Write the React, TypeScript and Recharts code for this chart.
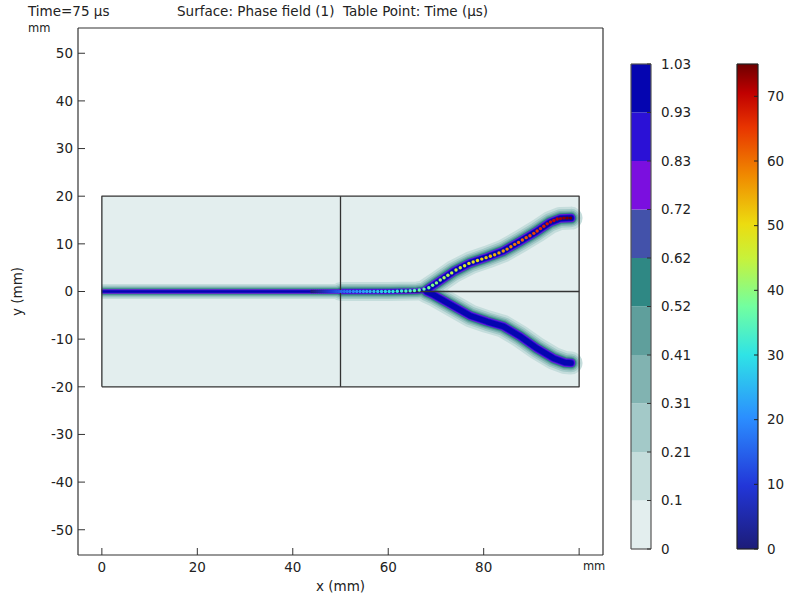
import { ComposedChart, Line, Scatter, XAxis, YAxis, ReferenceArea, BarChart, Bar } from 'recharts';

const FONT = '"DejaVu Sans", sans-serif';
const INK = '#222';

// geometry of the domain (mm)
const rectX = [0, 100, 100, 0, 0];
const rectY = [-20, -20, 20, 20, -20];
const splitVX = [50, 50];
const splitVY = [-20, 20];
const splitHX = [50, 100];
const splitHY = [0, 0];

// crack path (mm)
const stemLeftX = [0, 50];
const stemLeftY = [0, 0];
const stemRightX = [50, 60, 66, 68];
const stemRightY = [0, 0, 0.1, 0.3];
const upperX = [68, 70.2, 73.7, 77.2, 80.7, 84.1, 87.6, 91.1, 93.9, 96.0, 98.3];
const upperY = [0.3, 1.8, 4.2, 6.0, 7.2, 8.5, 10.5, 12.6, 14.5, 15.3, 15.4];
const lowerX = [68, 69.5, 73.7, 77.2, 80.7, 84.1, 87.6, 91.1, 94.6, 97.0, 98.3];
const lowerY = [0, -0.7, -3.1, -5.1, -6.3, -7.3, -9.4, -11.9, -14.0, -14.9, -15.0];

// crack tip table points
const tipT = [
  0, 1, 2, 3, 4, 5, 6, 7, 8, 9, 10, 11, 12, 13, 14, 15, 16, 17, 18, 19,
  20, 21, 22, 23, 24, 25, 26, 27, 28, 29, 30, 31, 32, 33, 34, 35, 36, 37, 38, 39,
  40, 41, 42, 43, 44, 45, 46, 47, 48, 49, 50, 51, 52, 53, 54, 55, 56, 57, 58, 59,
  60, 61, 62, 63, 64, 65, 66, 67, 68, 69, 70, 71, 72, 73, 74, 75,
];
const tipX = [
  44.0, 44.4, 44.8, 45.2, 45.6, 46.0, 46.4, 46.8, 47.2, 47.6, 48.0, 48.4, 48.8, 49.2, 49.7, 50.2, 50.8, 51.4, 52.0, 52.7,
  53.4, 54.1, 54.8, 55.5, 56.2, 57.0, 57.8, 58.6, 59.4, 60.2, 61.0, 61.9, 62.8, 63.7, 64.6, 65.5, 66.5, 67.5, 68.5, 69.3,
  70.1, 70.9, 71.7, 72.5, 73.3, 74.2, 75.1, 76.0, 76.9, 77.8, 78.7, 79.6, 80.5, 81.4, 82.3, 83.2, 84.1, 84.9, 85.7, 86.5,
  87.3, 88.1, 88.9, 89.7, 90.5, 91.2, 91.9, 92.6, 93.3, 94.0, 94.7, 95.4, 96.1, 96.8, 97.5, 98.2,
];
const tipY = [
  0, 0, 0, 0, 0, 0, 0, 0, 0, 0, 0, 0, 0, 0, 0, 0, 0, 0, 0, 0,
  0, 0, 0, 0, 0, 0, 0, 0, 0, 0, 0, 0.05, 0.1, 0.1, 0.15, 0.2, 0.3, 0.5, 0.8, 1.3,
  1.8, 2.4, 2.9, 3.4, 3.9, 4.5, 5.0, 5.4, 5.9, 6.2, 6.5, 6.8, 7.1, 7.4, 7.7, 8.1, 8.5, 8.9, 9.4, 9.9,
  10.3, 10.8, 11.3, 11.7, 12.2, 12.7, 13.2, 13.7, 14.2, 14.6, 14.9, 15.2, 15.3, 15.4, 15.4, 15.4,
];

// axes
const xTicks = [0, 20, 40, 60, 80, 100];
const yTicks = [-50, -40, -30, -20, -10, 0, 10, 20, 30, 40, 50];

// phase field colour legend
const phaseLevels = [0, 0.1033, 0.2066, 0.31, 0.4132, 0.5165, 0.6198, 0.7231, 0.8264, 0.9297, 1.033];
const phaseLabels = ['0', '0.1', '0.21', '0.31', '0.41', '0.52', '0.62', '0.72', '0.83', '0.93', '1.03'];
const phaseColors = ['#e3eeee', '#c5dddc', '#a3c9c8', '#81b3b1', '#5f9f9c', '#2f8884', '#4352aa', '#7b0fdf', '#2b11d6', '#0505b0'];

// time colour legend
const timeTicks = [0, 10, 20, 30, 40, 50, 60, 70];
const timeMax = 75;
const rainbowStops: [number, string][] = [
  [0, '#1c1c78'], [0.13, '#2236d8'], [0.27, '#2b8eff'], [0.4, '#2fe3e6'], [0.5, '#72ffa0'],
  [0.6, '#c8f23a'], [0.67, '#ecdc10'], [0.77, '#f08a00'], [0.87, '#e83400'], [0.94, '#c00000'], [1, '#6e0000'],
];

// halo widths (px) per phase colour band, outermost first
const haloColors = phaseColors.slice(1);
const stemLeftW = [15, 12, 9.5, 7.5, 6, 4.8, 4, 3, 1.8];
const stemRightW = [19, 15, 12, 9.5, 7.5, 6, 5, 4.2, 3];
const branchW = [23, 18.5, 15, 12.5, 10.5, 9, 8, 7, 5.5];

const pts = (xs: number[], ys: number[]) => xs.map((x, i) => ({ x, y: ys[i] }));

const hex = (c: string) => [1, 3, 5].map((i) => parseInt(c.slice(i, i + 2), 16));
const colorAt = (t: number) => {
  const f = Math.max(0, Math.min(1, t / timeMax));
  for (let i = 1; i < rainbowStops.length; i++) {
    const [p1, c1] = rainbowStops[i];
    const [p0, c0] = rainbowStops[i - 1];
    if (f <= p1) {
      const k = (f - p0) / (p1 - p0);
      const a = hex(c0);
      const b = hex(c1);
      return `rgb(${a.map((v, j) => Math.round(v + (b[j] - v) * k)).join(',')})`;
    }
  }
  return rainbowStops[rainbowStops.length - 1][1];
};

const stemL = pts(stemLeftX, stemLeftY);
const stemR = pts(stemRightX, stemRightY);
const upper = pts(upperX, upperY);
const lower = pts(lowerX, lowerY);
const tips = tipT.map((t, i) => ({ x: tipX[i], y: tipY[i], t }));

const tickStyle = { fill: INK, fontSize: 13.5, fontFamily: FONT };

const renderXTick = (p: any) => {
  const v = p.payload.value;
  if (v === 100) {
    return (
      <text x={p.x + 15} y={p.y} dy="0.71em" textAnchor="middle" fill={INK} fontSize={11.5} fontFamily={FONT}>
        mm
      </text>
    );
  }
  return (
    <text x={p.x} y={p.y} dy="0.71em" textAnchor="middle" {...tickStyle}>
      {v}
    </text>
  );
};

const line = (key: string, data: any[], color: string, width: number, cap: 'butt' | 'round' = 'round') => (
  <Line
    key={key}
    data={data}
    dataKey="y"
    stroke={color}
    strokeWidth={width}
    strokeLinecap={cap}
    strokeLinejoin="round"
    dot={false}
    activeDot={false}
    isAnimationActive={false}
  />
);

const PhaseLegend = () => {
  const row: any = { name: 'phi' };
  phaseLevels.slice(1).forEach((v, i) => {
    row['b' + i] = v - phaseLevels[i];
  });
  return (
    <BarChart width={80} height={598} data={[row]} margin={{ top: 63, right: 9, bottom: 48, left: 10 }} barCategoryGap={0}>
      {phaseColors.map((c, i) => (
        <Bar key={i} dataKey={'b' + i} stackId="a" fill={c} isAnimationActive={false} />
      ))}
      <XAxis dataKey="name" height={1} tick={false} tickLine={false} axisLine={{ stroke: '#555', strokeWidth: 1.2 }} />
      <XAxis xAxisId="top" dataKey="name" orientation="top" height={1} tick={false} tickLine={false} axisLine={{ stroke: '#555', strokeWidth: 1.2 }} />
      <YAxis
        orientation="right"
        width={40}
        type="number"
        domain={[0, 1.033]}
        ticks={phaseLevels}
        interval={0}
        allowDataOverflow
        tickFormatter={(_v: any, i: number) => phaseLabels[i]}
        tickSize={-4}
        tickMargin={14}
        tick={tickStyle}
        tickLine={{ stroke: '#333' }}
        axisLine={{ stroke: '#555', strokeWidth: 1.2 }}
      />
      <YAxis
        yAxisId="l"
        orientation="left"
        width={1}
        type="number"
        domain={[0, 1.033]}
        ticks={phaseLevels}
        interval={0}
        allowDataOverflow
        tick={false}
        tickSize={-4}
        tickLine={{ stroke: '#333' }}
        axisLine={{ stroke: '#555', strokeWidth: 1.2 }}
      />
    </BarChart>
  );
};

const TimeLegend = () => (
  <BarChart width={80} height={598} data={[{ name: 't', t: timeMax }]} margin={{ top: 63, right: 8, bottom: 48, left: 10 }} barCategoryGap={0}>
    <defs>
      <linearGradient id="rainbow" x1="0" y1="1" x2="0" y2="0">
        {rainbowStops.map(([p, c]) => (
          <stop key={p} offset={p} stopColor={c} />
        ))}
      </linearGradient>
    </defs>
    <Bar dataKey="t" fill="url(#rainbow)" isAnimationActive={false} />
    <XAxis dataKey="name" height={1} tick={false} tickLine={false} axisLine={{ stroke: '#222', strokeWidth: 1.2 }} />
    <XAxis xAxisId="top" dataKey="name" orientation="top" height={1} tick={false} tickLine={false} axisLine={{ stroke: '#222', strokeWidth: 1.2 }} />
    <YAxis
      orientation="right"
      width={40}
      type="number"
      domain={[0, timeMax]}
      ticks={timeTicks}
      interval={0}
      allowDataOverflow
      tickSize={-4}
      tickMargin={13}
      tick={tickStyle}
      tickLine={{ stroke: '#222' }}
      axisLine={{ stroke: '#222', strokeWidth: 1.2 }}
    />
    <YAxis
      yAxisId="l"
      orientation="left"
      width={1}
      type="number"
      domain={[0, timeMax]}
      ticks={timeTicks}
      interval={0}
      allowDataOverflow
      tick={false}
      tickSize={-4}
      tickLine={{ stroke: '#222' }}
      axisLine={{ stroke: '#222', strokeWidth: 1.2 }}
    />
  </BarChart>
);

const App = () => {
  const halos: any[] = [];
  haloColors.forEach((c, i) => {
    halos.push(line('sl' + i, stemL, c, stemLeftW[i], 'butt'));
    halos.push(line('sr' + i, stemR, c, stemRightW[i]));
    halos.push(line('up' + i, upper, c, branchW[i]));
    halos.push(line('lo' + i, lower, c, branchW[i]));
  });

  return (
    <div style={{ position: 'absolute', left: 0, top: 0, width: 787, height: 598, background: '#fff', fontFamily: FONT, color: INK }}>
      <div style={{ position: 'absolute', left: 28, top: 3, fontSize: 13.5, lineHeight: '16px', whiteSpace: 'nowrap' }}>Time=75 μs</div>
      <div style={{ position: 'absolute', left: 177, top: 3, fontSize: 13.5, lineHeight: '16px', whiteSpace: 'pre' }}>
        Surface: Phase field (1)  Table Point: Time (μs)
      </div>
      <div style={{ position: 'absolute', left: 28, top: 21, fontSize: 11.5, lineHeight: '14px' }}>mm</div>

      <div style={{ position: 'absolute', left: 0, top: 0 }}>
        <ComposedChart width={787} height={598} margin={{ top: 27, right: 183, bottom: 13, left: 28 }}>
          <XAxis
            dataKey="x"
            type="number"
            domain={[-5, 105]}
            ticks={xTicks}
            interval={0}
            allowDataOverflow
            height={30}
            tickSize={-7}
            tickMargin={14}
            tick={renderXTick}
            tickLine={{ stroke: '#333' }}
            axisLine={{ stroke: '#333', strokeWidth: 1.2 }}
            label={{ value: 'x (mm)', position: 'insideBottom', offset: -6, fill: INK, fontSize: 13.5, fontFamily: FONT }}
          />
          <XAxis
            xAxisId="top"
            orientation="top"
            type="number"
            domain={[-5, 105]}
            ticks={xTicks}
            interval={0}
            allowDataOverflow
            height={1}
            tick={false}
            tickSize={-7}
            tickLine={{ stroke: '#333' }}
            axisLine={{ stroke: '#333', strokeWidth: 1.2 }}
          />
          <YAxis
            dataKey="y"
            type="number"
            domain={[-55.3, 55.3]}
            ticks={yTicks}
            interval={0}
            allowDataOverflow
            width={50}
            tickSize={-7}
            tickMargin={12}
            tick={tickStyle}
            tickLine={{ stroke: '#333' }}
            axisLine={{ stroke: '#333', strokeWidth: 1.2 }}
            label={{ value: 'y (mm)', angle: -90, position: 'insideLeft', offset: -11, fill: INK, fontSize: 13.5, fontFamily: FONT, style: { textAnchor: 'middle' } }}
          />
          <YAxis
            yAxisId="right"
            orientation="right"
            type="number"
            domain={[-55.3, 55.3]}
            ticks={yTicks}
            interval={0}
            allowDataOverflow
            width={1}
            tick={false}
            tickSize={-7}
            tickLine={{ stroke: '#333' }}
            axisLine={{ stroke: '#333', strokeWidth: 1.2 }}
          />
          <ReferenceArea x1={0} x2={100} y1={-20} y2={20} fill={phaseColors[0]} fillOpacity={1} stroke="none" />
          {halos}
          {line('rect', pts(rectX, rectY), '#333', 1.3, 'butt')}
          {line('splitV', pts(splitVX, splitVY), '#333', 1.3, 'butt')}
          {line('splitH', pts(splitHX, splitHY), '#333', 1.3, 'butt')}
          <Scatter
            data={tips}
            dataKey="y"
            isAnimationActive={false}
            shape={(p: any) => <circle cx={p.cx} cy={p.cy} r={1.7} fill={colorAt(p.payload.t)} />}
          />
        </ComposedChart>
      </div>

      <div style={{ position: 'absolute', left: 620, top: 0 }}>
        <PhaseLegend />
      </div>
      <div style={{ position: 'absolute', left: 726, top: 0 }}>
        <TimeLegend />
      </div>
    </div>
  );
};

export default App;
